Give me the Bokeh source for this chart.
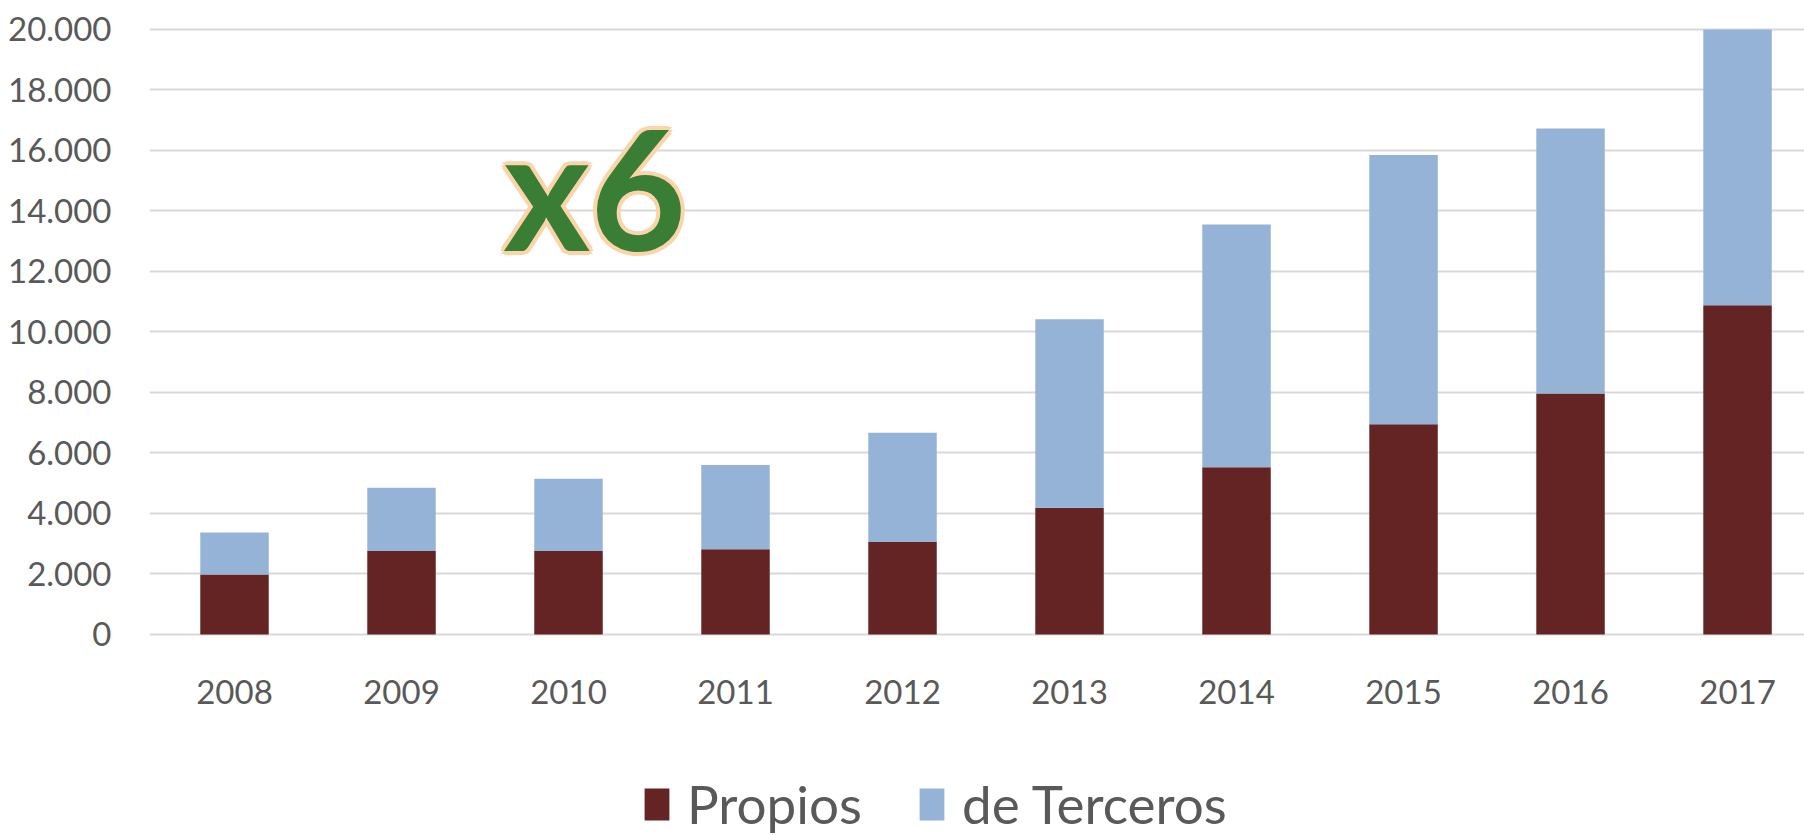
from bokeh.plotting import figure
from bokeh.models import FixedTicker, Range1d, Legend, LegendItem, Label
from bokeh.embed import file_html
from bokeh.resources import INLINE

years = [2008, 2009, 2010, 2011, 2012, 2013, 2014, 2015, 2016, 2017]
propios = [1980, 2760, 2760, 2820, 3060, 4190, 5530, 6950, 7970, 10880]
terceros = [1390, 2090, 2390, 2780, 3610, 6230, 8020, 8900, 8760, 9120]
y_ticks = [0, 2000, 4000, 6000, 8000, 10000, 12000, 14000, 16000, 18000, 20000]
y_tick_labels = ["0", "2.000", "4.000", "6.000", "8.000", "10.000", "12.000",
                 "14.000", "16.000", "18.000", "20.000"]
series_names = ["Propios", "de Terceros"]
annotation_text = "x6"

FONT = "Lato"
C_PROP = "#632423"
C_TERC = "#95b3d7"
TXT = "#595959"

p = figure(width=1804, height=835, output_backend="svg", toolbar_location=None,
           x_range=Range1d(2007.491, 2017.401), y_range=Range1d(-6645, 20165),
           min_border_left=149, min_border_right=0, min_border_top=24,
           min_border_bottom=0)
p.outline_line_color = None
p.background_fill_color = "white"
p.border_fill_color = "white"

data = {"years": years, "Propios": propios, "de Terceros": terceros}
rs = p.vbar_stack(series_names, x="years", width=0.41, source=data,
                  color=[C_PROP, C_TERC], line_color=None)

# axes
p.xaxis.ticker = FixedTicker(ticks=years)
p.xaxis.fixed_location = 0
p.yaxis.ticker = FixedTicker(ticks=y_ticks)
p.yaxis.major_label_overrides = {t: l for t, l in zip(y_ticks, y_tick_labels)}
for ax in (p.xaxis[0], p.yaxis[0]):
    ax.axis_line_color = None
    ax.major_tick_line_color = None
    ax.minor_tick_line_color = None
    ax.major_label_text_font = FONT
    ax.major_label_text_font_size = "33px"
    ax.major_label_text_color = TXT
p.xaxis.major_label_standoff = 40
p.yaxis.major_label_standoff = 32

p.xgrid.grid_line_color = None
p.ygrid.ticker = FixedTicker(ticks=y_ticks)
p.ygrid.grid_line_color = "#d9d9d9"
p.ygrid.grid_line_width = 2
p.ygrid.level = "underlay"

legend = Legend(items=[LegendItem(label=n, renderers=[r]) for n, r in zip(series_names, rs)],
                orientation="horizontal", location=(492, 0),
                glyph_width=31, glyph_height=40, label_standoff=15, spacing=54,
                padding=0, margin=0,
                border_line_color=None, background_fill_alpha=0,
                label_text_font=FONT, label_text_font_size="53px",
                label_text_color=TXT)
p.add_layout(legend, "center")

# "x6" annotation: light outline drawn behind the green text
outline_offsets = [(4, 0), (-4, 0), (0, 4), (0, -4), (3, 3), (-3, 3), (3, -3), (-3, -3)]
for dx, dy in outline_offsets:
    p.add_layout(Label(x=2009.61, y=14800, x_offset=dx, y_offset=dy,
                       text=annotation_text, text_font=FONT,
                       text_font_size="166px", text_font_style="bold",
                       text_color="#fbd5a9", text_baseline="alphabetic",
                       text_align="left"))
p.add_layout(Label(x=2009.61, y=14800, text=annotation_text, text_font=FONT,
                   text_font_size="166px", text_font_style="bold",
                   text_color="#3a7d35", text_baseline="alphabetic",
                   text_align="left"))

open("out.html", "w").write(file_html(p, INLINE))
